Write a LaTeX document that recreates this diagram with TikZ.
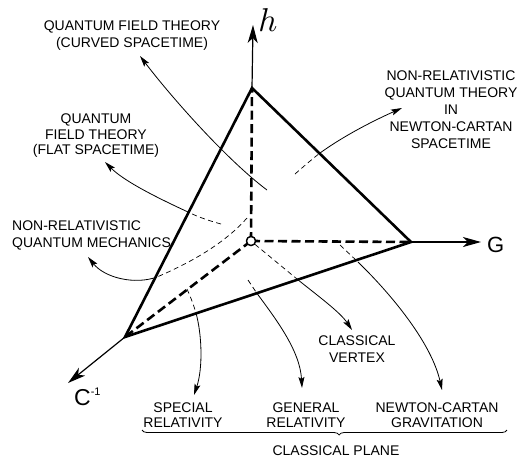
\documentclass[tikz,border=0pt]{standalone}
\usepackage{fontspec}
\setmainfont{Liberation Sans}
\usetikzlibrary{arrows.meta,decorations.pathreplacing}
\begin{document}
\begin{tikzpicture}[x=1pt,y=-1pt,
  lbl/.style={font=\fontsize{14}{17}\selectfont, align=center, inner sep=0pt},
  lbltight/.style={font=\fontsize{14}{15.5}\selectfont, align=center, inner sep=0pt},
  edge/.style={line width=2.6pt},
  edgedash/.style={line width=2.6pt, dash pattern=on 9pt off 4.5pt},
  axis/.style={line width=1.2pt, -{Stealth[length=18pt,width=10pt,inset=5pt]}},
  pointer/.style={line width=0.8pt, -{Stealth[length=11pt,width=6pt,inset=2pt]}},
  hidden/.style={line width=0.7pt, dash pattern=on 5pt off 3.5pt},
  vertexdot/.style={circle, draw, fill=white, line width=1.3pt, minimum size=9pt, inner sep=0pt},
]
\useasboundingbox (0,0) rectangle (520,459);

% vertices
\coordinate (O) at (251,241);
\coordinate (T) at (252,88);
\coordinate (Gv) at (411,242);
\coordinate (Cv) at (125,337);
\coordinate (Ht) at (253,25);
\coordinate (Gt) at (481,242);
\coordinate (Ct) at (68,383);

% hidden thick edges
\draw[edgedash] (O) -- (T);
\draw[edgedash] (O) -- (Gv);
\draw[edgedash] (O) -- (Cv);

% axes
\draw[axis] (T) -- (Ht);
\draw[axis] (Gv) -- (Gt);
\draw[axis] (Cv) -- (Ct);

% labels
\node[inner sep=0pt] (hlab) at (268,20) {\scalebox{3.3}{$h$}};
\node[inner sep=0pt, anchor=base west, font=\fontsize{22}{22}\selectfont] (glab) at (487,252) {G};
\node[inner sep=0pt, anchor=base west] (clab) at (74,405) {{\fontsize{23}{23}\selectfont C}\raisebox{10pt}{\fontsize{11}{11}\selectfont -1}};

\node[lbl] (qftc) at (132,36) {QUANTUM FIELD THEORY\\(CURVED SPACETIME)};
\node[lbltight] (qftf) at (96,136) {QUANTUM\\FIELD THEORY\\(FLAT SPACETIME)};
\node[lbl, align=left, anchor=west] (nrqm) at (12,235) {NON-RELATIVISTIC\\QUANTUM MECHANICS};
\node[lbl] (nrnc) at (451,110) {NON-RELATIVISTIC\\QUANTUM THEORY\\IN\\NEWTON-CARTAN\\SPACETIME};
\node[lbl] (cv) at (357,349) {CLASSICAL\\VERTEX};
\node[lbltight] (sr) at (183,415) {SPECIAL\\RELATIVITY};
\node[lbltight] (gr) at (306,415) {GENERAL\\RELATIVITY};
\node[lbltight] (ncg) at (437,415) {NEWTON-CARTAN\\GRAVITATION};
\node[lbl] (cp) at (336,451) {CLASSICAL PLANE};

% pointer end points
\coordinate (a1) at (140,56);
\coordinate (a2) at (105,162);
\coordinate (a3) at (88,257);
\coordinate (a4) at (402,108);
\coordinate (a5) at (194,395);
\coordinate (a6) at (302,388);
\coordinate (a7) at (352,330);
\coordinate (a8) at (442,390);

% crossing / start points
\coordinate (s1) at (267,190);
\coordinate (s2) at (221,224);
\coordinate (x2) at (188,212);
\coordinate (s3) at (247,218);
\coordinate (x3) at (157,277);
\coordinate (s4) at (295,174);
\coordinate (x4) at (320,153);
\coordinate (s5) at (187,289);
\coordinate (x5) at (196,313);
\coordinate (s6) at (248,280);
\coordinate (x6) at (256,292);
\coordinate (x7) at (297,279);
\coordinate (s8) at (340,245);
\coordinate (x8) at (358,262);

% pointers
\draw[pointer] (s1) .. controls (227,160) and (172,98) .. (a1);

\draw[hidden] (s2) .. controls (210,221) and (198,217) .. (x2);
\draw[pointer] (x2) .. controls (160,199) and (125,182) .. (a2);

\draw[hidden] (s3) .. controls (225,243) and (192,262) .. (x3);
\draw[pointer] (x3) .. controls (135,285) and (105,278) .. (a3);

\draw[hidden] (s4) .. controls (303,167) and (311,160) .. (x4);
\draw[pointer] (x4) .. controls (345,135) and (375,120) .. (a4);

\draw[hidden] (s5) .. controls (191,298) and (194,306) .. (x5);
\draw[pointer] (x5) .. controls (202,335) and (203,368) .. (a5);

\draw[hidden] (s6) -- (x6);
\draw[pointer] (x6) .. controls (275,318) and (300,350) .. (a6);

\node[vertexdot] (Oc) at (O) {};
\draw[hidden] (Oc.-40) -- (x7);
\draw[pointer] (x7) .. controls (318,296) and (340,312) .. (a7);

\draw[hidden] (s8) -- (x8);
\draw[pointer] (x8) .. controls (395,298) and (432,345) .. (a8);

% solid thick edges
\draw[edge] (T) -- (Gv) -- (Cv) -- cycle;
\node[vertexdot] at (O) {};

% brace
\draw[line width=0.8pt, decorate, decoration={brace, mirror, amplitude=5pt, aspect=0.54}] (142,430) -- (507,430);
\end{tikzpicture}
\end{document}
